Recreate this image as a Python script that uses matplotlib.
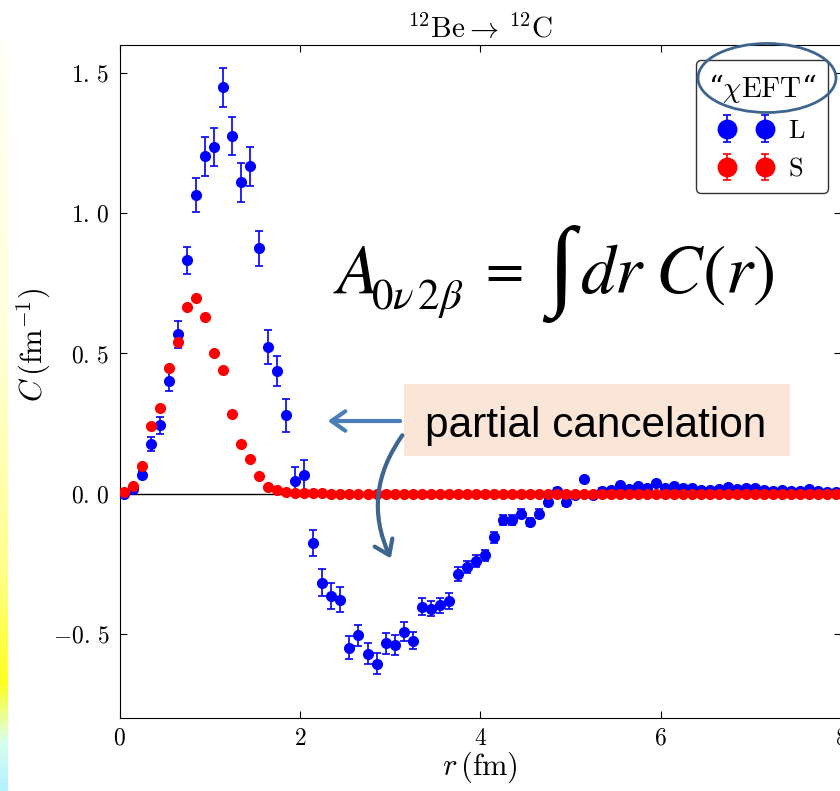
import numpy as np
import matplotlib
matplotlib.use('Agg')
import matplotlib.pyplot as plt
from matplotlib.patches import Ellipse, Rectangle, FancyArrowPatch
from matplotlib.colors import LinearSegmentedColormap

plt.rcParams['mathtext.fontset'] = 'cm'
plt.rcParams['font.family'] = 'serif'
plt.rcParams['font.serif'] = ['cmr10', 'DejaVu Serif']
plt.rcParams['axes.formatter.use_mathtext'] = True

# radial grid (fm)
r = [0.05, 0.15, 0.25, 0.35, 0.45, 0.55, 0.65, 0.75, 0.85, 0.95,
     1.05, 1.15, 1.25, 1.35, 1.45, 1.55, 1.65, 1.75, 1.85, 1.95,
     2.05, 2.15, 2.25, 2.35, 2.45, 2.55, 2.65, 2.75, 2.85, 2.95,
     3.05, 3.15, 3.25, 3.35, 3.45, 3.55, 3.65, 3.75, 3.85, 3.95,
     4.05, 4.15, 4.25, 4.35, 4.45, 4.55, 4.65, 4.75, 4.85, 4.95,
     5.05, 5.15, 5.25, 5.35, 5.45, 5.55, 5.65, 5.75, 5.85, 5.95,
     6.05, 6.15, 6.25, 6.35, 6.45, 6.55, 6.65, 6.75, 6.85, 6.95,
     7.05, 7.15, 7.25, 7.35, 7.45, 7.55, 7.65, 7.75, 7.85, 7.95]

# L (long range) - blue
C_L = [0.000, 0.018, 0.068, 0.177, 0.244, 0.403, 0.568, 0.832, 1.066, 1.203,
       1.236, 1.449, 1.275, 1.110, 1.167, 0.875, 0.523, 0.437, 0.279, 0.045,
       0.065, -0.175, -0.317, -0.364, -0.378, -0.549, -0.505, -0.570, -0.606, -0.534,
       -0.539, -0.493, -0.524, -0.403, -0.410, -0.398, -0.383, -0.285, -0.261, -0.241,
       -0.220, -0.156, -0.095, -0.095, -0.071, -0.101, -0.071, -0.030, 0.008, -0.031,
       -0.004, 0.051, -0.004, 0.010, 0.012, 0.030, 0.018, 0.026, 0.021, 0.039,
       0.020, 0.027, 0.020, 0.020, 0.012, 0.014, 0.018, 0.024, 0.018, 0.020,
       0.020, 0.012, 0.010, 0.014, 0.010, 0.010, 0.016, 0.010, 0.006, 0.006]
err_L = [0.005, 0.008, 0.012, 0.024, 0.030, 0.036, 0.048, 0.047, 0.060, 0.070,
         0.067, 0.070, 0.069, 0.069, 0.069, 0.062, 0.062, 0.054, 0.059, 0.050,
         0.055, 0.047, 0.047, 0.046, 0.045, 0.040, 0.038, 0.037, 0.037, 0.037,
         0.036, 0.034, 0.031, 0.030, 0.028, 0.027, 0.027, 0.025, 0.022, 0.022,
         0.020, 0.020, 0.018, 0.018, 0.016, 0.016, 0.015, 0.014, 0.013, 0.012,
         0.011, 0.010, 0.010, 0.009, 0.009, 0.008, 0.008, 0.008, 0.008, 0.007,
         0.007, 0.007, 0.007, 0.006, 0.006, 0.006, 0.006, 0.006, 0.005, 0.005,
         0.005, 0.005, 0.005, 0.005, 0.005, 0.004, 0.004, 0.004, 0.004, 0.004]

# S (short range) - red
C_S = [0.005, 0.027, 0.099, 0.241, 0.305, 0.448, 0.541, 0.665, 0.699, 0.630,
       0.503, 0.440, 0.285, 0.176, 0.125, 0.064, 0.024, 0.014, 0.006, 0.003,
       0.002, 0.001, 0.001, 0.000, 0.000, 0.000, 0.000, 0.000, 0.000, 0.000,
       0.000, 0.000, 0.000, 0.000, 0.000, 0.000, 0.000, 0.000, 0.000, 0.000,
       0.000, 0.000, 0.000, 0.000, 0.000, 0.000, 0.000, 0.000, 0.000, 0.000,
       0.000, 0.000, 0.000, 0.000, 0.000, 0.000, 0.000, 0.000, 0.000, 0.000,
       0.000, 0.000, 0.000, 0.000, 0.000, 0.000, 0.000, 0.000, 0.000, 0.000,
       0.000, 0.000, 0.000, 0.000, 0.000, 0.000, 0.000, 0.000, 0.000, 0.000]
err_S = [0.003] * len(C_S)

xticks = [0, 2, 4, 6, 8]
xtick_labels = ['$0$', '$2$', '$4$', '$6$', '$8$']
yticks = [-0.5, 0.0, 0.5, 1.0, 1.5]
ytick_labels = [r'$-0.\,5$', r'$0.\,0$', r'$0.\,5$', r'$1.\,0$', r'$1.\,5$']

W, H = 840, 791
fig = plt.figure(figsize=(W / 100, H / 100), dpi=100)


def fx(x):
    return x / W


def fy(y):
    return 1 - y / H


ax = fig.add_axes([fx(119.5), fy(718), (841 - 119.5) / W, (718 - 45) / H])

ebL = ax.errorbar(r, C_L, yerr=err_L, fmt='o', color='blue', ms=7, mec='blue',
                  elinewidth=1.2, capsize=3, capthick=1.2, label='L', zorder=3)
ebS = ax.errorbar(r, C_S, yerr=err_S, fmt='o', color='red', ms=7, mec='red',
                  elinewidth=1.2, capsize=3, capthick=1.2, label='S', zorder=4)
ax.axhline(0, color='black', lw=1, zorder=2)

ax.set_xlim(0, 8)
ax.set_ylim(-0.8, 1.6)
ax.set_xticks(xticks)
ax.set_xticklabels(xtick_labels)
ax.set_yticks(yticks)
ax.set_yticklabels(ytick_labels)
ax.tick_params(direction='in', top=True, right=True, labelsize=17, length=5, pad=7)
ax.set_xlabel(r'$r\,(\mathrm{fm})$', fontsize=22, labelpad=0)
ax.set_ylabel(r'$C\,(\mathrm{fm}^{-1})$', fontsize=22)
ax.yaxis.set_label_coords(-0.092, 0.554)
ax.set_title(r'$^{12}\mathrm{Be}\rightarrow\,^{12}\mathrm{C}$', fontsize=21, pad=5)

leg = ax.legend(handles=[ebL, ebS], labels=['L', 'S'], loc='upper right',
                bbox_to_anchor=(0.982, 0.978), borderaxespad=0, numpoints=2,
                markerscale=1.9, handlelength=2.05, fontsize=19,
                title='\u201c$\\chi\\mathrm{EFT}$\u201c', title_fontsize=21,
                fancybox=True, edgecolor='black', borderpad=0.45,
                labelspacing=0.55, handletextpad=0.6)
leg.get_frame().set_linewidth(1.0)
leg.get_title().set_family('DejaVu Serif')

# slide overlays
fig.add_artist(Ellipse((fx(767), fy(78)), 138 / W, 69 / H, transform=fig.transFigure,
                       fill=False, edgecolor='#3e6490', lw=2))

fig.add_artist(Rectangle((fx(404), fy(456)), (790 - 404) / W, (456 - 384) / H,
                         transform=fig.transFigure, facecolor='#fbe5d6',
                         edgecolor='none', zorder=5))
fig.text(fx(425), fy(437), 'partial cancelation', family='Liberation Sans',
         fontsize=30.5, ha='left', va='baseline', zorder=6)

fig.add_artist(FancyArrowPatch((fx(403), fy(421)), (fx(325), fy(421)),
                               transform=fig.transFigure,
                               arrowstyle='->,head_length=0.5,head_width=0.35',
                               mutation_scale=20, lw=3, color='#4a7ebb', zorder=5))
fig.add_artist(FancyArrowPatch((fx(404), fy(433)), (fx(392), fy(561)),
                               transform=fig.transFigure,
                               connectionstyle='arc3,rad=0.3',
                               arrowstyle='->,head_length=0.5,head_width=0.35',
                               mutation_scale=20, lw=3, color='#3e6490', zorder=5))

# formula, built from pieces so the subscript and integral match the slide
fsz = 50
fig.text(fx(333), fy(293), r'$A$', math_fontfamily='stix',
         fontsize=fsz, ha='left', va='baseline', zorder=6)
fig.text(fx(371), fy(309), r'$0\nu\,2\beta$', math_fontfamily='stix',
         fontsize=31, ha='left', va='baseline', zorder=6)
fig.text(fx(500), fy(286), r'$=$', math_fontfamily='stix',
         fontsize=40, ha='center', va='baseline', zorder=6)
fig.text(fx(561), fy(274), '\u222b', family='Liberation Serif',
         fontsize=72, ha='center', va='center', zorder=6)
fig.text(fx(774), fy(293), r'$dr\;C(r)$', math_fontfamily='stix',
         fontsize=fsz, ha='right', va='baseline', zorder=6)

# left edge strip from the slide background
strip = fig.add_axes([0, 0, 8 / W, fy(40)])
cmap = LinearSegmentedColormap.from_list(
    'strip', [(0.0, '#b4f2ff'), (0.06, '#d8fff0'), (0.14, '#ffff20'),
              (0.3, '#ffff90'), (0.6, '#ffffd8'), (1.0, '#fffff6')])
strip.imshow(np.linspace(0, 1, 200)[:, None], aspect='auto', cmap=cmap, origin='lower')
strip.axis('off')

fig.savefig('out.png', dpi=100)
